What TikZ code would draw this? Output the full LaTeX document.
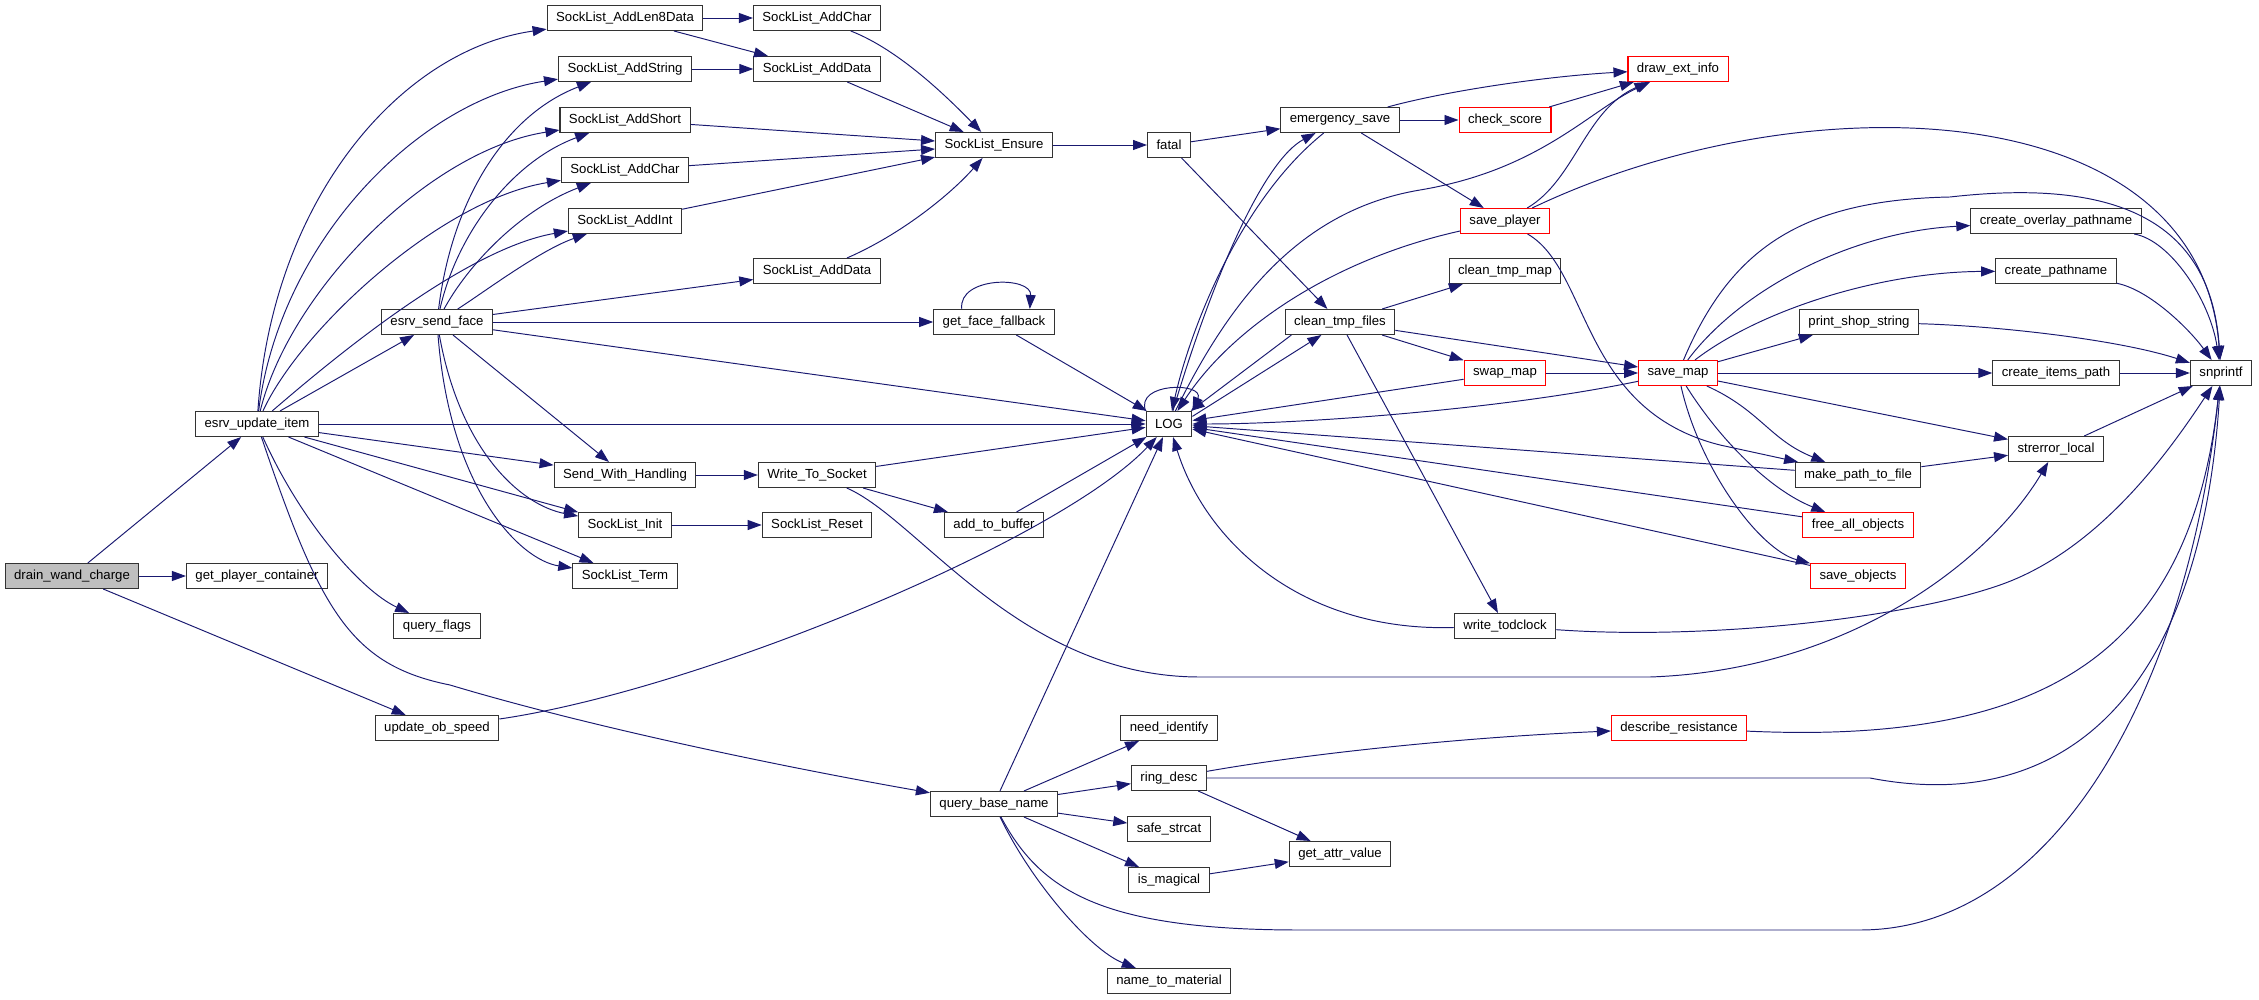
\documentclass[tikz,border=0pt]{standalone}
\usepackage{fontspec}
\setmainfont{Liberation Sans}
\usetikzlibrary{arrows.meta}

\definecolor{edgeblue}{HTML}{191970}
\tikzset{
  fn/.style={draw=black!80,line width=0.6pt,fill=white,minimum height=0.5cm,
    inner xsep=0.18cm,inner ysep=0pt,font=\fontsize{7.5}{9}\selectfont},
  fnred/.style={fn,draw=red},
  fnroot/.style={fn,fill=black!25},
  call/.style={draw=edgeblue,line width=0.55pt,-{Triangle[length=0.28cm,width=0.2cm]}},
}

\begin{document}
\begin{tikzpicture}[x=0.02cm,y=-0.02cm]
  \useasboundingbox (0,0) rectangle (2259,1000);

  % functions
  \node[fnroot] (dwc) at (72,576) {drain\_wand\_charge};
  \node[fn] (eui) at (257,424) {esrv\_update\_item};
  \node[fn] (gpc) at (257,576) {get\_player\_container};
  \node[fn] (esf) at (437,322) {esrv\_send\_face};
  \node[fn] (qflags) at (437,626) {query\_flags};
  \node[fn] (uobs) at (437,728) {update\_ob\_speed};
  \node[fn] (addlen8) at (625,18) {SockList\_AddLen8Data};
  \node[fn] (addstr) at (625,69) {SockList\_AddString};
  \node[fn] (addshort) at (625,120) {SockList\_AddShort};
  \node[fn] (addchar) at (625,170) {SockList\_AddChar};
  \node[fn] (addint) at (625,221) {SockList\_AddInt};
  \node[fn] (swh) at (625,475) {Send\_With\_Handling};
  \node[fn] (sinit) at (625,525) {SockList\_Init};
  \node[fn] (sterm) at (625,576) {SockList\_Term};
  \node[fn] (addchartop) at (817,18) {SockList\_AddChar};
  \node[fn] (adddatatop) at (817,69) {SockList\_AddData};
  \node[fn] (adddata) at (817,271) {SockList\_AddData};
  \node[fn] (wts) at (817,475) {Write\_To\_Socket};
  \node[fn] (sreset) at (817,525) {SockList\_Reset};
  \node[fn] (ensure) at (994,145) {SockList\_Ensure};
  \node[fn] (gff) at (994,322) {get\_face\_fallback};
  \node[fn] (atb) at (994,525) {add\_to\_buffer};
  \node[fn] (qbn) at (994,804) {query\_base\_name};
  \node[fn] (fatal) at (1169,145) {fatal};
  \node[fn] (log) at (1169,424) {LOG};
  \node[fn] (needid) at (1169,728) {need\_identify};
  \node[fn] (ringd) at (1169,778) {ring\_desc};
  \node[fn] (strcat) at (1169,829) {safe\_strcat};
  \node[fn] (ismag) at (1169,880) {is\_magical};
  \node[fn] (ntm) at (1169,981) {name\_to\_material};
  \node[fn] (esave) at (1340,120) {emergency\_save};
  \node[fn] (ctf) at (1340,322) {clean\_tmp\_files};
  \node[fn] (gav) at (1340,854) {get\_attr\_value};
  \node[fnred] (cscore) at (1505,120) {check\_score};
  \node[fnred] (splayer) at (1505,221) {save\_player};
  \node[fn] (ctm) at (1505,271) {clean\_tmp\_map};
  \node[fnred] (swap) at (1505,373) {swap\_map};
  \node[fn] (wtod) at (1505,626) {write\_todclock};
  \node[fnred] (dei) at (1678,69) {draw\_ext\_info};
  \node[fnred] (smap) at (1678,373) {save\_map};
  \node[fnred] (dres) at (1679,728) {describe\_resistance};
  \node[fn] (pss) at (1859,322) {print\_shop\_string};
  \node[fn] (mptf) at (1858,475) {make\_path\_to\_file};
  \node[fnred] (fao) at (1858,525) {free\_all\_objects};
  \node[fnred] (sobj) at (1858,576) {save\_objects};
  \node[fn] (cop) at (2056,221) {create\_overlay\_pathname};
  \node[fn] (cpn) at (2056,271) {create\_pathname};
  \node[fn] (cip) at (2056,373) {create\_items\_path};
  \node[fn] (serr) at (2056,449) {strerror\_local};
  \node[fn] (snp) at (2221,373) {snprintf};

  % calls
  \draw[call] (dwc) -- (eui);
  \draw[call] (dwc) -- (gpc);
  \draw[call] (dwc) -- (uobs);

  \draw[call] (eui) .. controls (272,200) and (400,50) .. (addlen8);
  \draw[call] (eui) .. controls (280,240) and (420,100) .. (addstr);
  \draw[call] (eui) .. controls (290,290) and (430,150) .. (addshort);
  \draw[call] (eui) .. controls (300,330) and (440,200) .. (addchar);
  \draw[call] (eui) .. controls (320,370) and (460,250) .. (addint);
  \draw[call] (eui) -- (esf);
  \draw[call] (eui) -- (log);
  \draw[call] (eui) -- (swh);
  \draw[call] (eui) -- (sinit);
  \draw[call] (eui) -- (sterm);
  \draw[call] (eui) .. controls (300,520) and (360,590) .. (qflags);
  \draw[call] (eui) .. controls (320,610) and (350,665) .. (450,685)
    .. controls (600,730) and (800,770) .. (qbn);

  \draw[call] (esf) .. controls (452,200) and (505,115) .. (addstr);
  \draw[call] (esf) .. controls (458,230) and (515,160) .. (addshort);
  \draw[call] (esf) .. controls (468,265) and (520,210) .. (addchar);
  \draw[call] (esf) .. controls (480,295) and (540,250) .. (addint);
  \draw[call] (esf) -- (adddata);
  \draw[call] (esf) -- (gff);
  \draw[call] (esf) -- (log);
  \draw[call] (esf) -- (swh);
  \draw[call] (esf) .. controls (460,450) and (520,505) .. (sinit);
  \draw[call] (esf) .. controls (450,490) and (520,560) .. (sterm);

  \draw[call] (uobs) .. controls (700,690) and (1060,540) .. (log);

  \draw[call] (addlen8) -- (addchartop);
  \draw[call] (addlen8) -- (adddatatop);
  \draw[call] (addstr) -- (adddatatop);
  \draw[call] (addchartop) .. controls (900,50) and (950,100) .. (ensure);
  \draw[call] (adddatatop) -- (ensure);
  \draw[call] (addshort) -- (ensure);
  \draw[call] (addchar) -- (ensure);
  \draw[call] (addint) -- (ensure);
  \draw[call] (adddata) .. controls (900,235) and (950,195) .. (ensure);
  \draw[call] (swh) -- (wts);
  \draw[call] (sinit) -- (sreset);
  \draw[call] (wts) -- (log);
  \draw[call] (wts) -- (atb);
  \draw[call] (wts) .. controls (920,520) and (1020,677) .. (1200,677) -- (1650,677)
    .. controls (1850,670) and (1990,560) .. (serr);
  \draw[call] (atb) -- (log);
  \draw[call] (gff.158) .. controls (958,276) and (1032,276) .. (gff.20);
  \draw[call] (gff) -- (log);

  \draw[call] (ensure) -- (fatal);
  \draw[call] (fatal) -- (esave);
  \draw[call] (fatal) -- (ctf);
  \draw[call] (log.north west) .. controls (1135,382) and (1205,382) .. (log.north east);
  \draw[call] (esave) .. controls (1240,200) and (1190,330) .. (log);
  \draw[call] (log) .. controls (1215,270) and (1265,160) .. (esave);
  \draw[call] (log) .. controls (1230,300) and (1300,210) .. (1420,190)
    .. controls (1540,170) and (1590,110) .. (dei);
  \draw[call] (ctf.195) -- (log.31);
  \draw[call] (log.18) -- (ctf.215);

  \draw[call] (esave) -- (cscore);
  \draw[call] (esave) .. controls (1450,90) and (1550,76) .. (dei);
  \draw[call] (esave) -- (splayer);
  \draw[call] (cscore) -- (dei);
  \draw[call] (splayer) .. controls (1575,180) and (1585,110) .. (dei);
  \draw[call] (splayer) .. controls (1800,80) and (2200,90) .. (snp);
  \draw[call] (splayer) .. controls (1330,260) and (1230,330) .. (log);
  \draw[call] (splayer) .. controls (1590,270) and (1580,410) .. (1720,445) -- (mptf);

  \draw[call] (ctf) -- (ctm);
  \draw[call] (ctf) -- (swap);
  \draw[call] (ctf) -- (smap);
  \draw[call] (ctf) -- (wtod);
  \draw[call] (swap) -- (smap);
  \draw[call] (swap) -- (log);

  \draw[call] (smap) .. controls (1500,410) and (1300,424) .. (log);
  \draw[call] (smap) .. controls (1740,290) and (1850,232) .. (cop);
  \draw[call] (smap) .. controls (1760,310) and (1880,272) .. (cpn);
  \draw[call] (smap) .. controls (1730,250) and (1800,200) .. (1950,197)
    .. controls (2100,180) and (2210,210) .. (snp);
  \draw[call] (smap) -- (pss);
  \draw[call] (smap) -- (cip);
  \draw[call] (smap) -- (serr);
  \draw[call] (smap) .. controls (1760,410) and (1770,440) .. (mptf);
  \draw[call] (smap) .. controls (1720,440) and (1770,490) .. (fao);
  \draw[call] (smap) .. controls (1700,470) and (1760,550) .. (sobj);

  \draw[call] (mptf) -- (log);
  \draw[call] (mptf) -- (serr);
  \draw[call] (fao) -- (log);
  \draw[call] (sobj) -- (log);
  \draw[call] (wtod) .. controls (1300,632) and (1205,540) .. (log);
  \draw[call] (wtod) .. controls (1700,640) and (1900,620) .. (2000,585)
    .. controls (2100,550) and (2170,450) .. (snp);

  \draw[call] (cop) .. controls (2170,240) and (2210,300) .. (snp);
  \draw[call] (cpn) .. controls (2150,290) and (2190,330) .. (snp);
  \draw[call] (pss) .. controls (2000,326) and (2120,340) .. (snp);
  \draw[call] (cip) -- (snp);
  \draw[call] (serr) -- (snp);

  \draw[call] (qbn) -- (log);
  \draw[call] (qbn) -- (needid);
  \draw[call] (qbn) -- (ringd);
  \draw[call] (qbn) -- (strcat);
  \draw[call] (qbn) -- (ismag);
  \draw[call] (qbn) .. controls (1030,880) and (1090,950) .. (ntm);
  \draw[call] (qbn) .. controls (1040,890) and (1100,930) .. (1300,930) -- (1860,930)
    .. controls (2050,930) and (2185,700) .. (snp);
  \draw[call] (ringd) .. controls (1300,755) and (1450,738) .. (dres);
  \draw[call] (ringd) -- (1870,778) .. controls (2060,815) and (2200,700) .. (snp);
  \draw[call] (ringd) -- (gav);
  \draw[call] (ismag) -- (gav);
  \draw[call] (dres) .. controls (2050,745) and (2190,650) .. (snp);
\end{tikzpicture}
\end{document}
